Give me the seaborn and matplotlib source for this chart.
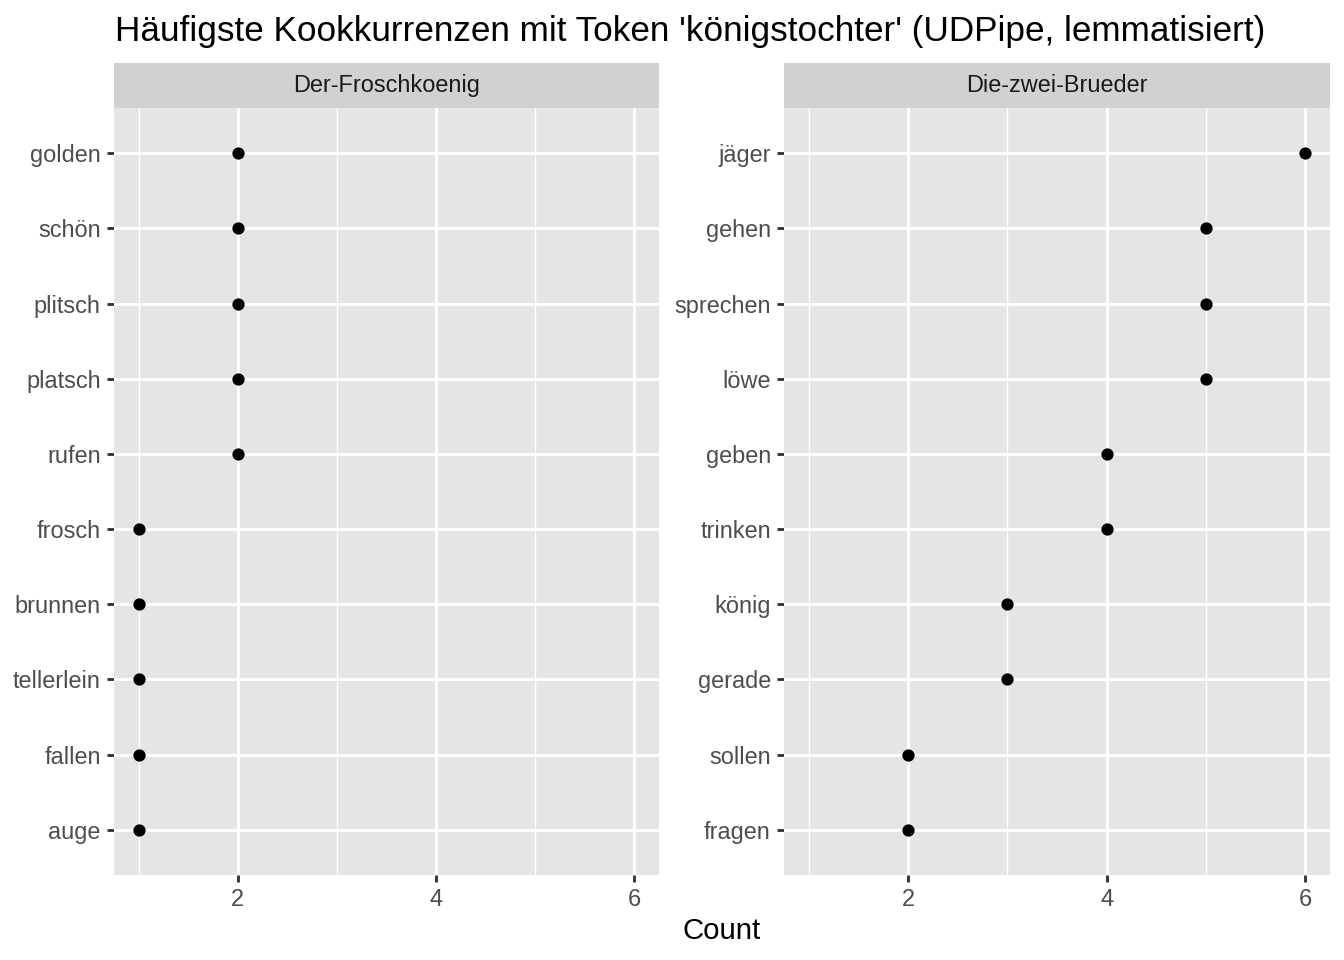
import matplotlib
matplotlib.use("Agg")
import matplotlib.pyplot as plt
import seaborn as sns
import pandas as pd

left_title = "Der-Froschkoenig"
left_words = ["golden", "schön", "plitsch", "platsch", "rufen", "frosch", "brunnen", "tellerlein", "fallen", "auge"]
left_counts = [2, 2, 2, 2, 2, 1, 1, 1, 1, 1]

right_title = "Die-zwei-Brueder"
right_words = ["jäger", "gehen", "sprechen", "löwe", "geben", "trinken", "könig", "gerade", "sollen", "fragen"]
right_counts = [6, 5, 5, 5, 4, 4, 3, 3, 2, 2]

x_ticks = [2, 4, 6]
x_minor = [1, 3, 5]

sns.set_theme(style="dark")
plt.rcParams['font.family'] = ['Liberation Sans', 'DejaVu Sans']

W, H = 1344, 960
fig = plt.figure(figsize=(7, 5), dpi=192)

def px(x0, y0, x1, y1):
    return [x0 / W, 1 - y1 / H, (x1 - x0) / W, (y1 - y0) / H]

panels = [
    (left_title, left_words, left_counts, 114, 659),
    (right_title, right_words, right_counts, 784, 1330),
]

for title, words, counts, x0, x1 in panels:
    ax = fig.add_axes(px(x0, 108, x1, 875))
    ax.set_facecolor("#E5E5E5")
    df = pd.DataFrame({"word": words, "count": counts})
    sns.stripplot(data=df, x="count", y="word", order=words, jitter=False,
                  color="black", size=4.6, ax=ax, zorder=3, linewidth=0)
    ax.set_xlim(0.75, 6.25)
    ax.set_ylim(len(words) - 0.4, -0.6)
    ax.set_xticks(x_ticks)
    ax.set_xticks(x_minor, minor=True)
    ax.grid(False)
    for v in x_ticks:
        ax.axvline(v, color="white", lw=1.07, zorder=1)
    for v in x_minor:
        ax.axvline(v, color="white", lw=0.53, zorder=1)
    for i in range(len(words)):
        ax.axhline(i, color="white", lw=1.07, zorder=1)
    for s in ax.spines.values():
        s.set_visible(False)
    ax.tick_params(axis="both", which="major", length=2.75, width=1.07, color="#333333",
                   labelsize=8.8, labelcolor="#4D4D4D", pad=2.2, bottom=True, left=True)
    ax.tick_params(axis="x", which="minor", length=0)
    ax.set_xlabel("")
    ax.set_ylabel("")
    sax = fig.add_axes(px(x0, 63, x1, 108))
    sax.set_facecolor("#D1D1D1")
    sax.set_xticks([]); sax.set_yticks([])
    for s in sax.spines.values():
        s.set_visible(False)
    sax.text(0.5, 0.5, title, ha="center", va="center", fontsize=8.8, color="#1A1A1A",
             transform=sax.transAxes)

fig.text(722 / W, 1 - 931 / H, "Count", ha="center", va="center", fontsize=11, color="black")
fig.text(115 / W, 1 - 31 / H, "Häufigste Kookkurrenzen mit Token 'königstochter' (UDPipe, lemmatisiert)",
         ha="left", va="center", fontsize=13.2, color="black")

fig.savefig("out.png", dpi=192)
